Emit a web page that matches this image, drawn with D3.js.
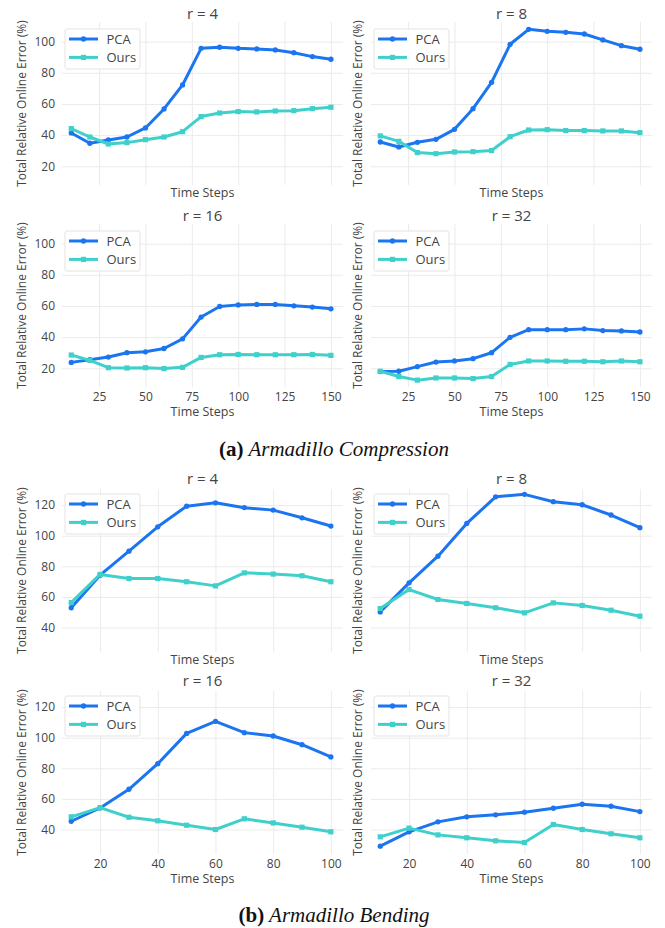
<!DOCTYPE html>
<html>
<head>
<meta charset="utf-8">
<script src="https://cdn.jsdelivr.net/npm/d3@7"></script>
<style>
body { margin: 0; background: #fff; }
svg text { font-family: "Open Sans", sans-serif; fill: #444; }
.caption text { font-family: "Liberation Serif", "Times New Roman", serif; fill: #111; }
</style>
</head>
<body>
<svg id="chart" width="665" height="928"></svg>
<script>
/************
** data
*************/
var stepsA = [10, 20, 30, 40, 50, 60, 70, 80, 90, 100, 110, 120, 130, 140, 150];
var stepsB = [10, 20, 30, 40, 50, 60, 70, 80, 90, 100];

// (a) Armadillo Compression
var pcaA4  = [41.4, 34.8, 36.9, 38.8, 44.6, 56.8, 72.2, 95.7, 96.4, 95.7, 95.3, 94.7, 92.9, 90.4, 88.7];
var oursA4 = [44.2, 38.8, 34.3, 35.2, 37.1, 38.8, 42.2, 51.9, 54.2, 55.1, 54.9, 55.5, 55.7, 57.0, 57.9];
var pcaA8  = [35.6, 32.4, 35.4, 37.3, 43.7, 57.0, 73.9, 98.3, 107.9, 106.6, 106.0, 104.9, 101.1, 97.4, 95.1];
var oursA8 = [39.5, 36.0, 28.8, 28.1, 29.2, 29.4, 30.1, 39.0, 43.3, 43.5, 42.9, 42.9, 42.7, 42.7, 41.6];
var pcaA16  = [23.8, 25.5, 27.2, 30.0, 30.6, 32.7, 38.9, 52.9, 59.7, 60.7, 61.0, 61.0, 60.1, 59.3, 58.2];
var oursA16 = [28.5, 25.1, 20.4, 20.2, 20.4, 19.8, 20.6, 27.0, 28.7, 28.9, 28.7, 28.7, 28.7, 28.9, 28.3];
var pcaA32  = [17.9, 18.1, 21.1, 24.0, 24.7, 26.2, 30.0, 39.9, 44.8, 44.8, 44.8, 45.3, 44.2, 44.0, 43.3];
var oursA32 = [18.1, 14.7, 12.4, 13.8, 13.8, 13.4, 14.7, 22.5, 24.7, 24.7, 24.5, 24.5, 24.2, 24.7, 24.2];

// (b) Armadillo Bending
var pcaB4  = [52.9, 74.2, 89.9, 105.8, 119.3, 121.5, 118.3, 116.7, 111.7, 106.3];
var oursB4 = [56.3, 74.7, 72.0, 72.0, 69.9, 67.2, 75.7, 74.9, 73.8, 69.9];
var pcaB8  = [50.2, 69.2, 86.6, 108.0, 125.4, 127.0, 122.2, 120.2, 113.5, 105.2];
var oursB8 = [52.4, 64.8, 58.3, 55.7, 52.9, 49.6, 56.1, 54.4, 51.3, 47.4];
var pcaB16  = [45.4, 54.1, 66.3, 83.0, 102.8, 110.7, 103.3, 101.1, 95.4, 87.4];
var oursB16 = [48.3, 54.3, 48.0, 45.7, 42.8, 40.0, 47.0, 44.3, 41.5, 38.5];
var pcaB32  = [29.1, 38.5, 45.0, 48.3, 49.6, 51.3, 53.9, 56.5, 55.2, 51.7];
var oursB32 = [35.2, 40.9, 36.5, 34.6, 32.6, 31.5, 43.3, 40.0, 37.2, 34.6];

var ticksXA = [25, 50, 75, 100, 125, 150];
var ticksXB = [20, 40, 60, 80, 100];
var ticksYA = [20, 40, 60, 80, 100];
var ticksYB = [40, 60, 80, 100, 120];

var seriesNames = ["PCA", "Ours"];
var captionA = ["(a)", " Armadillo Compression"];
var captionB = ["(b)", " Armadillo Bending"];

/************
** colors
*************/
var pcaColor = "#1c75f0";
var oursColor = "#3fd0cc";
var gridColor = "#ebebeb";

/************
** layout
*************/
var cols = [[62, 343], [371, 652]];
var sections = [
    { steps: stepsA, xDomain: [5, 156.5], yDomain: [8, 112.6], xTicks: ticksXA, yTicks: ticksYA,
      rows: [[22, 185], [224, 387]], legendOff: 7, titleOff: 8, caption: captionA, captionY: 456,
      panels: [["r = 4", pcaA4, oursA4], ["r = 8", pcaA8, oursA8], ["r = 16", pcaA16, oursA16], ["r = 32", pcaA32, oursA32]] },
    { steps: stepsB, xDomain: [6.8, 104.2], yDomain: [24, 130.5], xTicks: ticksXB, yTicks: ticksYB,
      rows: [[489, 652], [691, 854]], legendOff: 5, titleOff: 10, caption: captionB, captionY: 922,
      panels: [["r = 4", pcaB4, oursB4], ["r = 8", pcaB8, oursB8], ["r = 16", pcaB16, oursB16], ["r = 32", pcaB32, oursB32]] }
];

var svg = d3.select("#chart");

sections.forEach(function(sec){
    sec.panels.forEach(function(p, i){
        var row = Math.floor(i / 2), col = i % 2;
        var top = sec.rows[row][0], bottom = sec.rows[row][1];
        var left = cols[col][0], right = cols[col][1];
        var x = d3.scaleLinear().domain(sec.xDomain).range([left, right]);
        var y = d3.scaleLinear().domain(sec.yDomain).range([bottom, top]);
        var g = svg.append("g");

        // grid + axes
        var xAxis = d3.axisBottom(x).tickValues(sec.xTicks).tickSize(-(bottom - top)).tickPadding(5);
        if (row === 0) xAxis.tickFormat("");
        var gx = g.append("g").attr("transform", "translate(0," + bottom + ")").call(xAxis);
        var yAxis = d3.axisLeft(y).tickValues(sec.yTicks).tickSize(-(right - left)).tickPadding(7);
        if (col === 1) yAxis.tickFormat("");
        var gy = g.append("g").attr("transform", "translate(" + left + ",0)").call(yAxis);
        [gx, gy].forEach(function(a){
            a.select(".domain").remove();
            a.selectAll("line").attr("stroke", gridColor).attr("stroke-width", 1);
            a.selectAll("text").attr("fill", "#444").style("font-size", "12px").attr("font-family", null);
        });

        // titles
        g.append("text").attr("x", (left + right) / 2).attr("y", top - sec.titleOff).attr("dy", "0.35em")
            .attr("text-anchor", "middle").style("font-size", "15px").text(p[0]);
        g.append("text").attr("x", (left + right) / 2).attr("y", bottom + (row === 0 ? 8 : 25)).attr("dy", "0.35em")
            .attr("text-anchor", "middle").style("font-size", "12.5px").text("Time Steps");
        g.append("text").attr("transform", "translate(" + (col === 1 ? left - 13 : left - 40) + "," + ((top + bottom) / 2) + ") rotate(-90)")
            .attr("dy", "0.35em").attr("text-anchor", "middle").style("font-size", "12px")
            .text("Total Relative Online Error (%)");

        // series
        var line = d3.line().x(function(d, k){ return x(sec.steps[k]); }).y(function(d){ return y(d); });
        [[p[1], pcaColor, "circle"], [p[2], oursColor, "square"]].forEach(function(s){
            g.append("path").datum(s[0]).attr("d", line).attr("fill", "none")
                .attr("stroke", s[1]).attr("stroke-width", 3).attr("stroke-linejoin", "round");
            var sym = d3.symbol().type(s[2] === "circle" ? d3.symbolCircle : d3.symbolSquare).size(s[2] === "circle" ? 22 : 27);
            g.selectAll(null).data(s[0]).enter().append("path")
                .attr("d", sym)
                .attr("transform", function(d, k){ return "translate(" + x(sec.steps[k]) + "," + y(d) + ")"; })
                .attr("fill", s[1]);
        });

        // legend
        var lx = left + 3, ly = top + sec.legendOff;
        var lg = g.append("g").attr("transform", "translate(" + lx + "," + ly + ")");
        lg.append("rect").attr("width", 75).attr("height", 40).attr("rx", 2)
            .attr("fill", "#fff").attr("fill-opacity", 0.9).attr("stroke", "#e3e3e3").attr("stroke-width", 1);
        [[pcaColor, d3.symbolCircle, 22], [oursColor, d3.symbolSquare, 27]].forEach(function(e, k){
            var ry = 10 + k * 18.4;
            lg.append("line").attr("x1", 4).attr("x2", 33).attr("y1", ry).attr("y2", ry)
                .attr("stroke", e[0]).attr("stroke-width", 3);
            lg.append("path").attr("d", d3.symbol().type(e[1]).size(e[2]))
                .attr("transform", "translate(18.5," + ry + ")").attr("fill", e[0]);
            lg.append("text").attr("x", 41.5).attr("y", ry).attr("dy", "0.35em")
                .style("font-size", "13px").text(seriesNames[k]);
        });
    });

    // caption
    var cap = svg.append("g").attr("class", "caption").append("text")
        .attr("x", 334).attr("y", sec.captionY).attr("text-anchor", "middle").style("font-size", "21px");
    cap.append("tspan").attr("font-weight", "bold").text(sec.caption[0]);
    cap.append("tspan").attr("font-style", "italic").text(sec.caption[1]);
});
</script>
</body>
</html>
